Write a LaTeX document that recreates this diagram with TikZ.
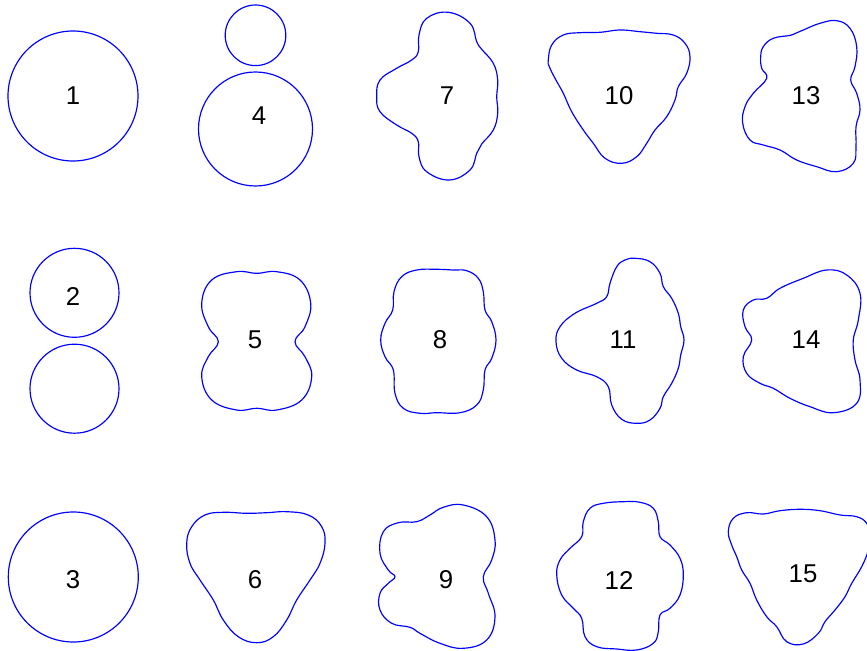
\documentclass[tikz,border=0pt]{standalone}
\usepackage{fontspec}
\setmainfont{Liberation Sans}
\usepackage{tikz}

\begin{document}
\begin{tikzpicture}[x=0.03cm, y=-0.03cm,
    blob/.style={blue, line width=1pt},
    num/.style={font=\fontsize{22}{26}\selectfont, inner sep=0pt}]
    \useasboundingbox (0,0) rectangle (867,651);
    \clip (0,0) rectangle (867,651);
    % first column: circles
    \draw[blob] (73,96) circle (65);
    \draw[blob] (74.5,292.8) circle (44.5);
    \draw[blob] (74.5,388.7) circle (44.5);
    \draw[blob] (73.3,577) circle (65);
    % second column
    \draw[blob] (255.5,35.3) circle (30.3);
    \draw[blob] (255.5,129) circle (57);
    \draw[blob] plot[smooth cycle, tension=0.7] coordinates {
        (256.7,273.3) (276.7,271.7) (300,280) (310.7,303.3) (305,326.7)
        (295,341.7) (305,356.7) (311.7,376.7) (301.7,400) (276.7,410)
        (256.7,408.3) (236.7,410) (211.7,400) (201.7,376.7) (208.3,356.7)
        (218.3,341.7) (208.3,326.7) (201.7,303.3) (211.7,280) (236.7,271.7)};
    \draw[blob] plot[smooth cycle, tension=0.7] coordinates {
        (186.7,543.3) (191.7,526.7) (205,515) (223.3,512.3) (246.7,513.3)
        (266.7,512.7) (286.7,511.7) (308.3,515) (321.7,526.7) (325,543.3)
        (320,563.3) (310,580) (296.7,600) (286.7,620) (273.3,636.7)
        (256.7,642.7) (238.3,636.7) (223.3,620) (213.3,600) (200,580)
        (190,563.3)};
    % third column
    \draw[blob] plot[smooth cycle, tension=0.7] coordinates {
        (448.3,12.3) (470,23.3) (476.7,41.7) (481.7,49.3) (493.3,63.3)
        (497.7,80) (496.7,96.7) (497.7,113.3) (493.3,130) (481.7,144)
        (476.7,153.3) (470,170) (449.3,180) (426.7,171.7) (419,156.7)
        (418.3,141.7) (411.7,133.3) (396.7,125) (380,111.7) (376.7,96.7)
        (380,80) (396.7,68.3) (411.7,60) (418.3,51.7) (419,35) (426.7,18.3)};
    \draw[blob] plot[smooth cycle, tension=0.7] coordinates {
        (436.7,269.3) (453.3,270) (466.7,270.7) (478.3,278.3) (483.3,291.7)
        (485,310) (491.7,321.7) (496,340) (491.7,358.3) (485,370)
        (483.3,390) (476.7,405) (460,412.7) (436.7,412.7) (420,413.3)
        (403.3,408.3) (395,393.3) (393.3,370) (385,356.7) (380.7,340)
        (385,323.3) (392.7,310) (394,291.7) (401.7,276.7) (416.7,270)};
    \draw[blob] plot[smooth cycle, tension=0.7] coordinates {
        (463.3,505) (486.7,516.7) (495,540) (491.7,560) (483.3,576.7)
        (488.3,593.3) (495,616.7) (486.7,640) (463.3,648.3) (440,643.3)
        (420,633.3) (410,627.3) (391.7,623.3) (380,610) (380,593.3)
        (388.3,583.3) (395,576.7) (388.3,570) (380,553.3) (383.3,531.7)
        (398.3,522.7) (416.7,521.7) (430,515) (443.3,507.3)};
    % fourth column
    \draw[blob] plot[smooth cycle, tension=0.7] coordinates {
        (548.3,60) (551.7,45) (563.3,35) (580,32.7) (600,32.3) (620,30)
        (640,31.7) (656.7,33.3) (673.3,35) (685,43.3) (690,56.7)
        (686.7,73.3) (678.3,86.7) (675,100) (666.7,116.7) (655,130)
        (646.7,143.3) (636.7,156.7) (621.7,163.3) (605,158.3) (593.3,143.3)
        (583.3,130) (571.7,111.7) (563.3,93.3) (555,78.3) (549.3,66.7)};
    \draw[blob] plot[smooth cycle, tension=0.7] coordinates {
        (635,258.3) (650,261.7) (660,273.3) (663.3,286.7) (671.7,298.3)
        (678.3,313.3) (680.7,326.7) (684,340) (680.7,355) (678.3,368.3)
        (671.7,383.3) (663.3,396.7) (660,408.3) (650,420) (636.7,423.3)
        (621.7,419.3) (611.7,405) (608.3,386.7) (596.7,376.7) (576.7,370)
        (561.7,358.3) (556,341.7) (560,326.7) (575,313.3) (596.7,303.3)
        (606.7,296.7) (610,283.3) (616.7,266.7) (625,260)};
    \draw[blob] plot[smooth cycle, tension=0.7] coordinates {
        (623.3,501.7) (640,502.3) (653.3,508.3) (658.3,521.7) (660,536.7)
        (670,545) (680,558.3) (683.3,575) (680,595) (670,608.3) (660,615)
        (658.3,631.7) (653.3,643.3) (636.7,650) (616.7,649) (596.7,646.7)
        (585,636.7) (581.7,618.3) (573.3,608.3) (561.7,595) (556.7,575)
        (560,560) (570,548.3) (581.7,536.7) (583.3,521.7) (590,508.3)
        (603.3,503.3)};
    % fifth column
    \draw[blob] plot[smooth cycle, tension=0.7] coordinates {
        (763.3,46.7) (773.3,38.3) (791.7,35) (803.3,30) (820,23.3)
        (836.7,20.7) (850,28.3) (856.7,46.7) (855,66.7) (850.7,80)
        (856.7,93.3) (860,110) (856,126.7) (856,146.7) (853.3,163.3)
        (836.7,171.7) (816.7,166.7) (796.7,160) (780,150) (763.3,145)
        (750,140) (742.7,123.3) (745,106.7) (753.3,93.3) (766.7,78.3)
        (761.7,68.3) (760.7,56.7)};
    \draw[blob] plot[smooth cycle, tension=0.7] coordinates {
        (766.7,298.3) (780,288.3) (803.3,278.3) (826.7,270) (846.7,275)
        (860,293.3) (858.3,320) (853.3,340) (855,360) (860,380)
        (856.7,403.3) (833.3,412.7) (810,406.7) (790,398.3) (773.3,388.3)
        (760,383.3) (746.7,373.3) (743.3,356.7) (751.7,340) (745,326.7)
        (743.3,310) (753.3,300)};
    \draw[blob] plot[smooth cycle, tension=0.7] coordinates {
        (728.3,531.7) (733.3,518.3) (746.7,512.7) (763.3,514) (780,510.7)
        (800,509.3) (820,510.7) (840,515) (856.7,516.7) (866.7,523.3)
        (870,535) (868.3,550) (861.7,566.7) (851.7,583.3) (845,596.7)
        (835,610) (825,621.7) (818.3,633.3) (803.3,644) (786.7,641.7)
        (776.7,626.7) (766.7,616.7) (756.7,600) (750,583.3) (741.7,570)
        (736.7,556.7) (731.7,545)};
    % labels
    \node[num] (l1) at (73,96) {1};
    \node[num] (l2) at (73,297) {2};
    \node[num] (l3) at (73,580) {3};
    \node[num] (l4) at (259,116) {4};
    \node[num] (l5) at (255,340) {5};
    \node[num] (l6) at (255,580) {6};
    \node[num] (l7) at (447,96) {7};
    \node[num] (l8) at (440,340) {8};
    \node[num] (l9) at (446,580) {9};
    \node[num] (l10) at (619,96) {10};
    \node[num] (l11) at (623,340) {11};
    \node[num] (l12) at (619,580) {12};
    \node[num] (l13) at (806,96) {13};
    \node[num] (l14) at (806,340) {14};
    \node[num] (l15) at (803,574) {15};
\end{tikzpicture}
\end{document}
